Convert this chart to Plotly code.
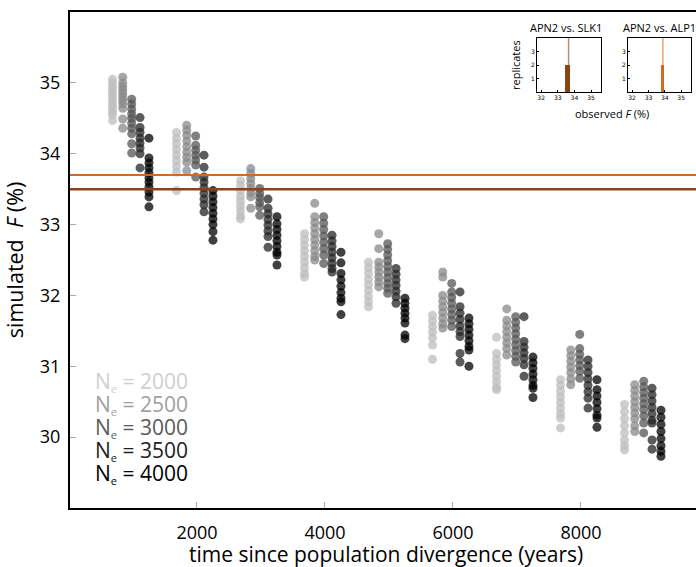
import plotly.graph_objects as go

# ---------------- data ----------------
times = [1000, 2000, 3000, 4000, 5000, 6000, 7000, 8000, 9000]
ne_values = [2000, 2500, 3000, 3500, 4000]

f_ne2000 = [
    [35.05, 35.0, 34.95, 34.9, 34.85, 34.8, 34.75, 34.7, 34.65, 34.6, 34.55, 34.47],
    [34.3, 34.22, 34.14, 34.06, 33.98, 33.9, 33.82, 33.74, 33.48],
    [33.62, 33.55, 33.48, 33.4, 33.33, 33.26, 33.19, 33.12, 33.08],
    [32.87, 32.79, 32.71, 32.63, 32.55, 32.47, 32.39, 32.31, 32.26],
    [32.47, 32.39, 32.31, 32.23, 32.15, 32.07, 31.99, 31.91, 31.84],
    [31.72, 31.64, 31.56, 31.48, 31.4, 31.3, 31.1],
    [31.41, 31.18, 31.1, 31.02, 30.94, 30.86, 30.78, 30.7, 30.67],
    [30.81, 30.73, 30.65, 30.57, 30.49, 30.41, 30.33, 30.27, 30.13],
    [30.46, 30.36, 30.26, 30.16, 30.06, 29.96, 29.88, 29.82],
]
f_ne2500 = [
    [35.08, 35.0, 34.95, 34.9, 34.85, 34.8, 34.75, 34.7, 34.64, 34.49, 34.36],
    [34.4, 34.33, 34.26, 34.18, 34.1, 34.02, 33.95, 33.88, 33.76],
    [33.79, 33.72, 33.65, 33.58, 33.51, 33.45, 33.39, 33.23],
    [33.3, 33.11, 33.03, 32.95, 32.87, 32.79, 32.71, 32.63, 32.55, 32.5],
    [32.87, 32.66, 32.47, 32.4, 32.33, 32.26, 32.19, 32.12],
    [32.33, 32.26, 32.0, 31.92, 31.84, 31.76, 31.68, 31.6, 31.54],
    [31.81, 31.65, 31.57, 31.49, 31.41, 31.33, 31.25, 31.16],
    [31.23, 31.15, 31.07, 30.99, 30.91, 30.82, 30.74],
    [30.74, 30.66, 30.58, 30.5, 30.42, 30.34, 30.26, 30.16, 30.08],
]
f_ne3000 = [
    [34.77, 34.7, 34.63, 34.56, 34.5, 34.43, 34.36, 34.28, 34.14, 34.01],
    [34.25, 34.12, 34.05, 33.98, 33.91, 33.84, 33.67],
    [33.51, 33.44, 33.38, 33.31, 33.25, 33.13],
    [33.11, 33.02, 32.93, 32.84, 32.75, 32.66, 32.57, 32.45],
    [32.73, 32.65, 32.57, 32.49, 32.41, 32.33, 32.25, 32.17, 32.1, 32.03],
    [32.17, 32.05, 31.97, 31.89, 31.81, 31.73, 31.65, 31.56],
    [31.7, 31.62, 31.54, 31.46, 31.38, 31.3, 31.22, 31.14, 31.06],
    [31.45, 31.25, 31.17, 31.09, 31.01, 30.93, 30.83],
    [30.79, 30.71, 30.63, 30.55, 30.47, 30.39, 30.3, 30.2, 30.06],
]
f_ne3500 = [
    [34.51, 34.37, 34.3, 34.22, 34.15, 34.08, 34.0, 33.8],
    [33.98, 33.81, 33.67, 33.6, 33.52, 33.44, 33.36, 33.28, 33.18],
    [33.36, 33.23, 33.15, 33.07, 32.99, 32.91, 32.83, 32.68],
    [32.85, 32.77, 32.69, 32.61, 32.53, 32.45, 32.38, 32.33],
    [32.38, 32.3, 32.22, 32.14, 32.06, 31.98, 31.89],
    [32.05, 31.84, 31.75, 31.66, 31.57, 31.49, 31.42, 31.18, 31.06],
    [31.7, 31.35, 31.27, 31.19, 31.11, 31.02, 30.86],
    [31.09, 31.0, 30.91, 30.82, 30.73, 30.64, 30.55, 30.41],
    [30.69, 30.6, 30.51, 30.42, 30.33, 30.24, 30.2, 29.96, 29.83],
]
f_ne4000 = [
    [34.22, 33.94, 33.87, 33.8, 33.73, 33.66, 33.6, 33.53, 33.46, 33.39, 33.25],
    [33.48, 33.4, 33.32, 33.24, 33.16, 33.08, 33.0, 32.9, 32.78],
    [33.11, 33.01, 32.93, 32.85, 32.77, 32.69, 32.61, 32.57, 32.43],
    [32.61, 32.46, 32.31, 32.22, 32.13, 32.04, 31.96, 31.91, 31.73],
    [31.96, 31.89, 31.82, 31.75, 31.68, 31.61, 31.44, 31.39],
    [31.68, 31.6, 31.52, 31.44, 31.36, 31.28, 31.23, 31.0],
    [31.13, 31.05, 30.97, 30.89, 30.81, 30.73, 30.69, 30.56],
    [30.81, 30.67, 30.58, 30.49, 30.4, 30.31, 30.27, 30.14],
    [30.38, 30.28, 30.18, 30.08, 29.98, 29.88, 29.8, 29.73],
]
series = [f_ne2000, f_ne2500, f_ne3000, f_ne3500, f_ne4000]

observed_labels = ["APN2 vs. SLK1", "APN2 vs. ALP1"]
observed_f = [33.5, 33.7]            # horizontal reference lines
hist_centers = [33.6, 33.86]         # inset histogram bins
hist_widths = [0.3, 0.24]
hist_counts = [2, 2]
hist_means = [33.65, 33.88]

# ---------------- styles ----------------
dodge = [-320, -160, -20, 110, 250]
marker_colors = ["#bdbdbd", "#8a8a8a", "#565656", "#262626", "#000000"]
text_colors = ["#cfcfcf", "#a0a0a0", "#5a5a5a", "#222222", "#000000"]
obs_colors = ["#8B4513", "#D2691E"]
obs_line_colors = ["rgba(139,69,19,0.6)", "rgba(210,105,30,0.6)"]
FONT = "Open Sans"

fig = go.Figure()

for k, ne in enumerate(ne_values):
    xs, ys = [], []
    for t, vals in zip(times, series[k]):
        xs += [t + dodge[k]] * len(vals)
        ys += vals
    fig.add_trace(go.Scatter(
        x=xs, y=ys, mode="markers", showlegend=False,
        marker=dict(size=9, color=marker_colors[k], opacity=0.75, line=dict(width=0)),
        xaxis="x", yaxis="y"))

for v, c, w in zip(observed_f, obs_colors, [2.5, 2]):
    fig.add_trace(go.Scatter(x=[0, 10000], y=[v, v], mode="lines", showlegend=False,
                             line=dict(color=c, width=w), xaxis="x", yaxis="y"))

# insets
for i in range(2):
    xa = "x%d" % (i + 2)
    ya = "y%d" % (i + 2)
    fig.add_trace(go.Bar(x=[hist_centers[i]], y=[hist_counts[i]], width=[hist_widths[i]],
                         marker=dict(color=obs_colors[i], line=dict(width=0)),
                         showlegend=False, xaxis=xa, yaxis=ya))
    fig.add_trace(go.Scatter(x=[hist_means[i], hist_means[i]], y=[0, 4], mode="lines",
                             line=dict(color=obs_line_colors[i], width=1.5),
                             showlegend=False, xaxis=xa, yaxis=ya))

inset_ax = dict(showline=True, linecolor="black", linewidth=1, mirror=True,
                ticks="inside", ticklen=2, tickcolor="black",
                tickfont=dict(size=6, family="DejaVu Sans", color="black"),
                showgrid=False, zeroline=False)

W, H = 696, 567
ml, mr, mt, mb = 70, 0, 12, 59
pw, ph = W - ml - mr, H - mt - mb

def px(x):
    return (x - ml) / pw

def py(y):
    return (H - mb - y) / ph

fig.update_layout(
    width=W, height=H,
    margin=dict(l=ml, r=mr, t=mt, b=mb),
    paper_bgcolor="white", plot_bgcolor="white",
    font=dict(family=FONT, color="black"),
    bargap=0,
    xaxis=dict(range=[16, 9797], tickvals=[2000, 4000, 6000, 8000],
               showline=True, linecolor="black", linewidth=2, mirror=True,
               ticks="inside", ticklen=6, tickcolor="#aaaaaa",
               ticklabelstandoff=7,
               tickfont=dict(size=18, family=FONT), showgrid=False, zeroline=False),
    yaxis=dict(range=[29, 36], tickvals=[30, 31, 32, 33, 34, 35],
               showline=True, linecolor="black", linewidth=2, mirror=False,
               ticks="inside", ticklen=6, tickcolor="#aaaaaa",
               ticklabelstandoff=4,
               tickfont=dict(size=18, family=FONT), showgrid=False, zeroline=False,
               title=dict(text="simulated  <i>F</i> (%)", font=dict(size=21.5, family=FONT),
                          standoff=10)),
    xaxis2=dict(domain=[px(537), px(601)], anchor="y2", range=[31.75, 35.6],
                tickvals=[32, 33, 34, 35], **inset_ax),
    yaxis2=dict(domain=[py(92), py(38)], anchor="x2", range=[0, 4],
                tickvals=[1, 2, 3], **inset_ax),
    xaxis3=dict(domain=[px(628), px(691)], anchor="y3", range=[31.75, 35.6],
                tickvals=[32, 33, 34, 35], **inset_ax),
    yaxis3=dict(domain=[py(92), py(38)], anchor="x3", range=[0, 4],
                tickvals=[1, 2, 3], **inset_ax),
)

annotations = []
annotations.append(dict(text="time since population divergence (years)",
                        x=px(386), y=py(554), xref="paper", yref="paper", showarrow=False,
                        font=dict(size=21, family=FONT),
                        xanchor="center", yanchor="middle"))
for i, lab in enumerate(observed_labels):
    cx = [566, 659][i]
    annotations.append(dict(text=lab, x=px(cx), y=py(28), xref="paper", yref="paper",
                            showarrow=False, font=dict(size=11, family=FONT),
                            xanchor="center", yanchor="middle"))
annotations.append(dict(text="replicates", x=px(516), y=py(65), xref="paper", yref="paper",
                        showarrow=False, textangle=-90, font=dict(size=11, family=FONT),
                        xanchor="center", yanchor="middle"))
annotations.append(dict(text="observed <i>F</i> (%)", x=px(612), y=py(113), xref="paper",
                        yref="paper", showarrow=False, font=dict(size=11, family=FONT),
                        xanchor="center", yanchor="middle"))

legend_lines = [
    '<span style="color:%s;font-size:21px">N<sub><span style="font-size:11px">e</span></sub>'
    ' = %d</span>' % (text_colors[k], ne)
    for k, ne in enumerate(ne_values)
]
annotations.append(dict(text="<br>".join(legend_lines), x=px(93), y=py(427),
                        xref="paper", yref="paper", showarrow=False, align="left",
                        font=dict(size=17.7, family=FONT),
                        xanchor="left", yanchor="middle"))
fig.update_layout(annotations=annotations)

fig.write_html("out.html")
